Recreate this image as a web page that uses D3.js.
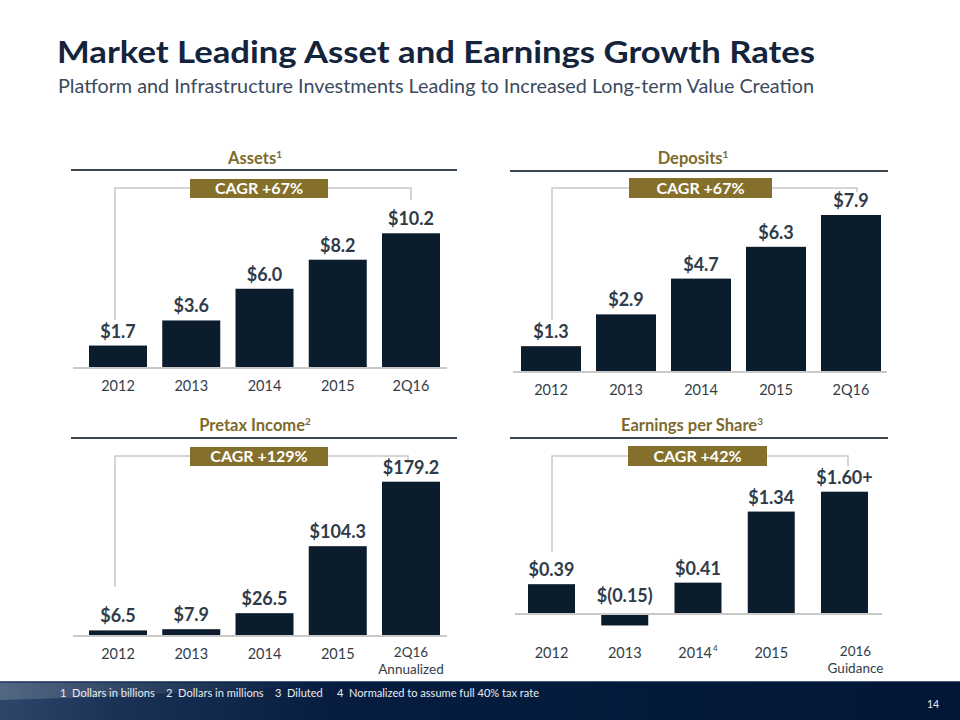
<!DOCTYPE html>
<html><head><meta charset="utf-8">
<script src="https://cdn.jsdelivr.net/npm/d3@7"></script>
<style>
html,body{margin:0;padding:0;background:#fff;}
svg{display:block;font-family:Lato,"Open Sans",sans-serif;}
</style>
</head><body>
<svg id="c" width="960" height="720"></svg>
<script>
// ---------- data ----------
const assetYears   = ["2012","2013","2014","2015","2Q16"];
const depositYears = ["2012","2013","2014","2015","2Q16"];
const pretaxYears  = ["2012","2013","2014","2015","2Q16"];
const epsYears     = ["2012","2013","2014","2015","2016"];

const assets   = [1.7, 3.6, 6.0, 8.2, 10.2];
const deposits = [1.3, 2.9, 4.7, 6.3, 7.9];
const pretax   = [6.5, 7.9, 26.5, 104.3, 179.2];
const eps      = [0.39, -0.15, 0.41, 1.34, 1.60];

const assetLabels   = ["$1.7","$3.6","$6.0","$8.2","$10.2"];
const depositLabels = ["$1.3","$2.9","$4.7","$6.3","$7.9"];
const pretaxLabels  = ["$6.5","$7.9","$26.5","$104.3","$179.2"];
const epsLabels     = ["$0.39","$(0.15)","$0.41","$1.34","$1.60+"];

const pretaxSubLabels = ["","","","","Annualized"];
const epsSubLabels    = ["","","","","Guidance"];
const epsCatSups      = ["","","4","",""];

const panelTitles    = ["Assets","Deposits","Pretax Income","Earnings per Share"];
const panelTitleSups = ["1","1","2","3"];
const cagrLabels     = ["CAGR +67%","CAGR +67%","CAGR +129%","CAGR +42%"];

const mainTitle = "Market Leading Asset and Earnings Growth Rates";
const subTitle  = "Platform and Infrastructure Investments Leading to Increased Long-term Value Creation";
const footnoteText = "1  Dollars in billions    2  Dollars in millions    3  Diluted     4  Normalized to assume full 40% tax rate";
const pageNumber = "14";

// ---------- styles ----------
const C = {
  title:"#14243d", sub:"#3b4a5e", gold:"#7d6a2c", box:"#85702b",
  rule:"#3c4754", bracket:"#c9c9c9", axis:"#c9c9c9", bar:"#0b1d2c",
  val:"#2f3b48", cat:"#333d48"
};

// ---------- layout ----------
const panels = [
  {cats:assetYears, values:assets, labels:assetLabels, subs:null, sups:null,
   cx:255, titleY:164, ruleY:170, ruleX:[71,457], box:[190,328,179,198], brY:188, brL:[115,320], brR:[411,200],
   bars:[89,440,58], base:368, topMax:233.3, axis:[73,447], lab:391, lastDx:0},
  {cats:depositYears, values:deposits, labels:depositLabels, subs:null, sups:null,
   cx:693, titleY:164, ruleY:171, ruleX:[510,888], box:[629,772,178,198], brY:188, brL:[552,320], brR:[857,192],
   bars:[521,881,60], base:372, topMax:215, axis:[513,887], lab:395, lastDx:0},
  {cats:pretaxYears, values:pretax, labels:pretaxLabels, subs:pretaxSubLabels, sups:null,
   cx:255, titleY:431, ruleY:438, ruleX:[71,457], box:[190,328,447,466], brY:456, brL:[115,587], brR:[408,462],
   bars:[89,440,58], base:636, topMax:481.7, axis:[73,447], lab:659, lastDx:0},
  {cats:epsYears, values:eps, labels:epsLabels, subs:epsSubLabels, sups:epsCatSups,
   cx:692, titleY:431, ruleY:438, ruleX:[510,888], box:[628,767,446,466], brY:456, brL:[552,552], brR:[848,466],
   bars:[528,868,47], base:614, topMax:491.7, axis:[515,882], lab:658, lastDx:11}
];

const svg = d3.select("#c");
const defs = svg.append("defs");
const fg = defs.append("linearGradient").attr("id","fg").attr("x1","0").attr("x2","1").attr("y1","0").attr("y2","0");
fg.append("stop").attr("offset","0").attr("stop-color","#2d4669");
fg.append("stop").attr("offset","0.12").attr("stop-color","#1a3256");
fg.append("stop").attr("offset","0.35").attr("stop-color","#061d3f");
fg.append("stop").attr("offset","1").attr("stop-color","#021737");
const fg2 = defs.append("linearGradient").attr("id","fg2").attr("x1","0").attr("x2","1").attr("y1","0").attr("y2","0");
fg2.append("stop").attr("offset","0").attr("stop-color","#ffffff").attr("stop-opacity",0.18);
fg2.append("stop").attr("offset","1").attr("stop-color","#ffffff").attr("stop-opacity",0);

// titles
svg.append("text").attr("x",57).attr("y",63).attr("fill",C.title)
  .attr("font-size",31).attr("font-weight",700)
  .attr("textLength",758).attr("lengthAdjust","spacingAndGlyphs").text(mainTitle);
svg.append("text").attr("x",58).attr("y",93).attr("fill",C.sub)
  .attr("font-size",19)
  .attr("textLength",756).attr("lengthAdjust","spacingAndGlyphs").text(subTitle);

panels.forEach((p,i)=>{
  const g = svg.append("g");
  const n = p.values.length;
  const [first,last,bw] = p.bars;
  const step = (last - first - bw)/(n-1);
  const pi = 1 - bw/step, po = pi/2;
  const x = d3.scaleBand().domain(p.cats).range([first - po*step, last + po*step])
    .paddingInner(pi).paddingOuter(po);
  const y = d3.scaleLinear().domain([0, d3.max(p.values)]).range([p.base, p.topMax]);

  // panel title with superscript
  const t = g.append("text").attr("x",p.cx).attr("y",p.titleY).attr("text-anchor","middle")
    .attr("fill",C.gold).attr("font-size",16.5).attr("font-weight",700);
  t.append("tspan").text(panelTitles[i]);
  t.append("tspan").attr("font-size",10).attr("dy",-6).text(panelTitleSups[i]);

  // rule
  g.append("line").attr("x1",p.ruleX[0]).attr("x2",p.ruleX[1]).attr("y1",p.ruleY).attr("y2",p.ruleY)
    .attr("stroke",C.rule).attr("stroke-width",2);

  // bracket
  g.append("path")
    .attr("d",`M${p.brL[0]},${p.brL[1]}V${p.brY}H${p.box[0]}M${p.box[1]},${p.brY}H${p.brR[0]}V${p.brR[1]}`)
    .attr("fill","none").attr("stroke",C.bracket).attr("stroke-width",1.5);

  // CAGR box
  g.append("rect").attr("x",p.box[0]).attr("y",p.box[2]).attr("width",p.box[1]-p.box[0]).attr("height",p.box[3]-p.box[2])
    .attr("fill",C.box);
  g.append("text").attr("x",(p.box[0]+p.box[1])/2).attr("y",p.box[3]-4).attr("text-anchor","middle")
    .attr("fill","#fff").attr("font-size",16).attr("font-weight",700).text(cagrLabels[i]);

  // bars
  const data = p.values.map((v,j)=>({c:p.cats[j], v, lab:p.labels[j],
     sub:p.subs?p.subs[j]:"", sup:p.sups?p.sups[j]:"",
     lx: x(p.cats[j]) + x.bandwidth()/2 + (j===n-1?p.lastDx:0)}));
  g.selectAll("rect.bar").data(data).join("rect").attr("class","bar")
    .attr("x",d=>x(d.c)).attr("width",x.bandwidth())
    .attr("y",d=>Math.min(y(d.v),y(0))).attr("height",d=>Math.abs(y(d.v)-y(0)))
    .attr("fill",C.bar);

  // axis baseline
  g.append("line").attr("x1",p.axis[0]).attr("x2",p.axis[1]).attr("y1",y(0)).attr("y2",y(0))
    .attr("stroke",C.axis).attr("stroke-width",2);

  // value labels
  g.selectAll("text.val").data(data).join("text").attr("class","val")
    .attr("x",d=>x(d.c)+x.bandwidth()/2)
    .attr("y",d=>d.v>=0 ? y(d.v)-8 : y(0)-12)
    .attr("text-anchor","middle").attr("fill",C.val).attr("font-size",18).attr("font-weight",700)
    .text(d=>d.lab);

  // category labels (second line as tspan)
  const cl = g.selectAll("text.cat").data(data).join("text").attr("class","cat")
    .attr("x",d=>d.lx).attr("y",d=>d.sub ? p.lab-2 : p.lab).attr("text-anchor","middle").attr("fill",C.cat)
    .attr("font-size",d=>d.sub ? 13.5 : 14.5);
  cl.append("tspan").text(d=>d.c);
  cl.filter(d=>d.sup).append("tspan").attr("font-size",8).attr("dy",-7).attr("dx",1).text(d=>d.sup);
  cl.filter(d=>d.sub).append("tspan").attr("x",d=>d.lx).attr("dy",16.5).text(d=>d.sub);
});

// footer
svg.append("rect").attr("x",0).attr("y",681).attr("width",960).attr("height",39).attr("fill","url(#fg)");
svg.append("path").attr("d","M0,683 L300,683 L300,688 C200,690 120,697 0,700 Z").attr("fill","url(#fg2)");
svg.append("line").attr("x1",0).attr("x2",960).attr("y1",681.5).attr("y2",681.5).attr("stroke","#4a5f7d").attr("stroke-width",1);
svg.append("text").attr("x",60).attr("y",697).attr("fill","#e8ecf2").attr("font-size",11.5)
  .style("white-space","pre").attr("textLength",479).attr("lengthAdjust","spacingAndGlyphs").text(footnoteText);
svg.append("text").attr("x",933).attr("y",708).attr("text-anchor","middle").attr("fill","#e8ecf2")
  .attr("font-size",10.5).text(pageNumber);
</script>
</body></html>
